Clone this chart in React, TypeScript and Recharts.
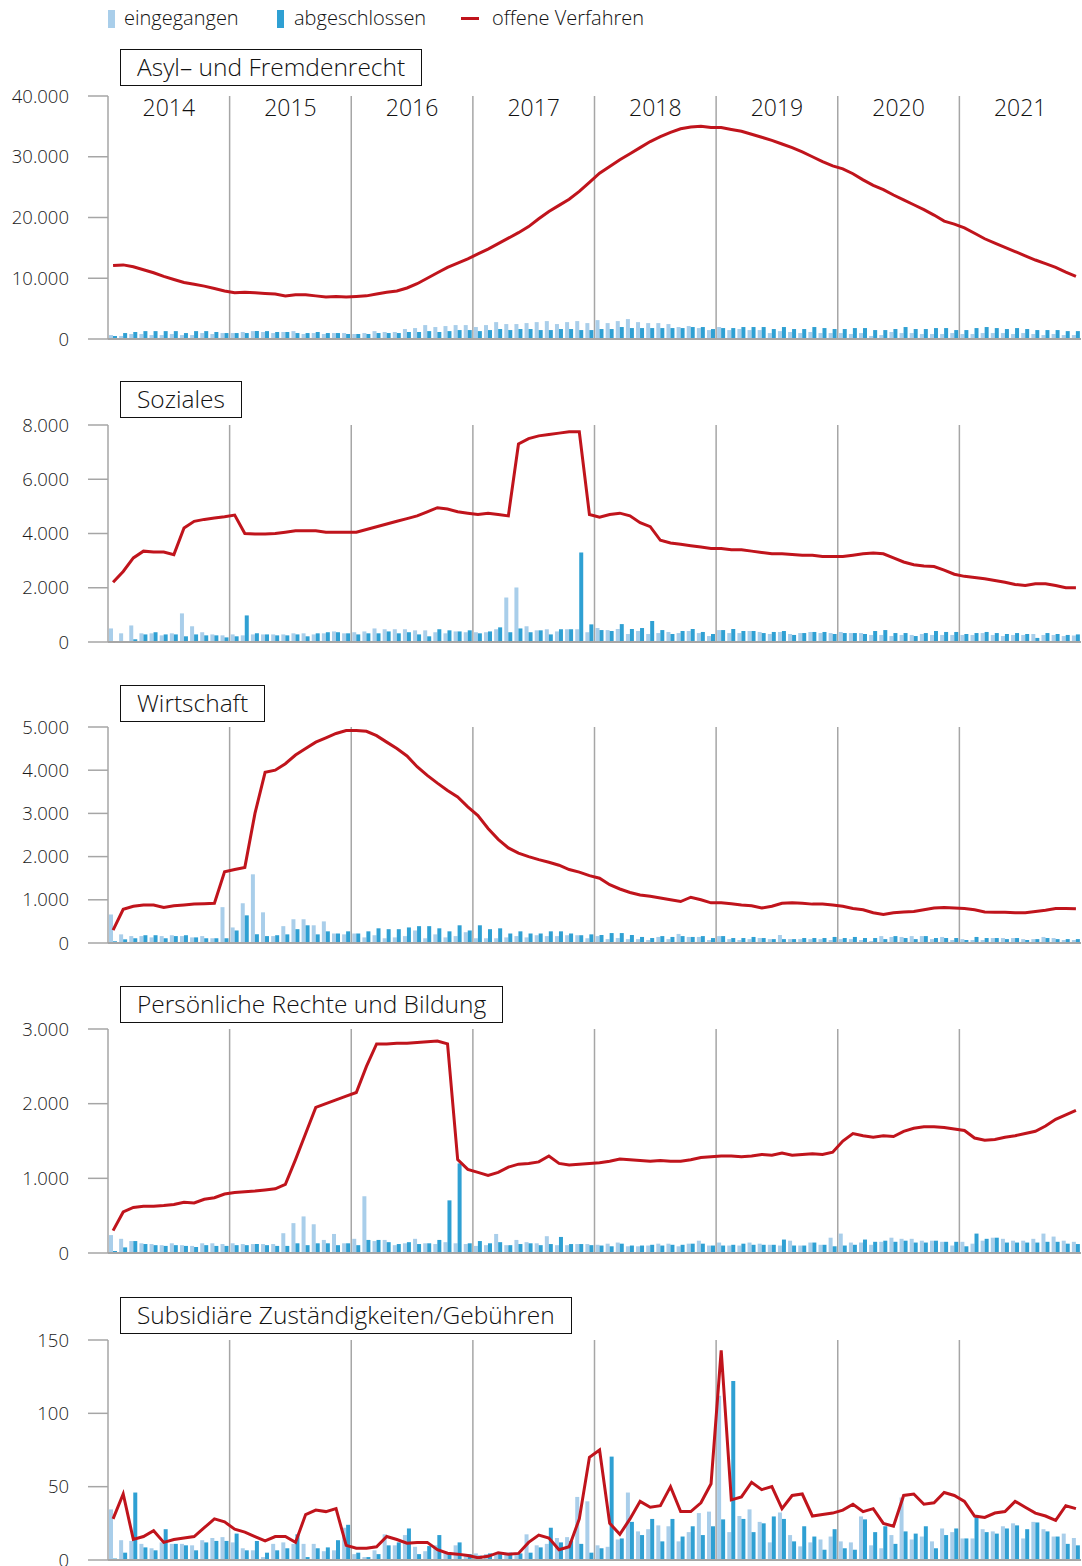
import React from "react";
import { ComposedChart, Bar, Line, XAxis, YAxis, CartesianGrid } from "recharts";

const YEARS = ["2014", "2015", "2016", "2017", "2018", "2019", "2020", "2021"];
const MONTH_NAMES = ["01", "02", "03", "04", "05", "06", "07", "08", "09", "10", "11", "12"];
const MONTHS = YEARS.flatMap((y) => MONTH_NAMES.map((m) => `${y}-${m}`));

// Asyl- und Fremdenrecht
const asylEingegangen = [
  650, 500, 820, 820, 650, 650, 820, 650, 650, 980, 820, 980,
  980, 1150, 1300, 1150, 980, 1150, 1300, 820, 980, 820, 980, 980,
  820, 980, 1300, 1150, 1150, 1640, 1800, 2290, 1970, 2130, 2290, 2290,
  1970, 2290, 2780, 2460, 2460, 2620, 2780, 2950, 2460, 2780, 2950, 2620,
  3110, 2620, 2950, 3280, 2780, 2620, 2620, 2460, 1970, 2130, 1800, 1470,
  1970, 1470, 1640, 1470, 1470, 980, 1300, 1150, 980, 1150, 980, 980,
  980, 820, 980, 500, 650, 1150, 980, 980, 820, 820, 820, 980,
  820, 820, 980, 980, 980, 820, 980, 820, 650, 820, 650, 650,
];
const asylAbgeschlossen = [
  490, 980, 1150, 1300, 1300, 1300, 1300, 980, 1300, 1300, 1150, 980,
  980, 980, 1300, 1300, 1150, 1150, 980, 980, 1150, 980, 980, 820,
  820, 820, 980, 980, 980, 1150, 1150, 1300, 1150, 1300, 1470, 1470,
  1300, 1470, 1640, 1470, 1640, 1640, 1470, 1470, 1640, 1640, 1470, 1470,
  1640, 1640, 1970, 1800, 1800, 1800, 1800, 1800, 1800, 1970, 1970, 1640,
  1800, 1800, 1970, 1970, 1970, 1640, 1970, 1640, 1640, 1970, 1800, 1640,
  1640, 1800, 1800, 1470, 1470, 1640, 1970, 1640, 1640, 1800, 1800, 1470,
  1470, 1800, 1970, 1800, 1640, 1800, 1640, 1470, 1470, 1470, 1300, 1300,
];
const asylOffen = [
  12100, 12200, 11900, 11400, 10900, 10300, 9800, 9300, 9000, 8700, 8300, 7900,
  7600, 7700, 7600, 7500, 7400, 7100, 7300, 7300, 7100, 6900, 7000, 6900,
  7000, 7100, 7400, 7700, 7900, 8400, 9100, 10000, 10900, 11800, 12500, 13200,
  14000, 14800, 15700, 16600, 17500, 18500, 19800, 21000, 22000, 23000, 24300, 25800,
  27300, 28400, 29500, 30500, 31500, 32500, 33300, 34000, 34600, 34900, 35000, 34800,
  34800, 34500, 34200, 33700, 33200, 32700, 32100, 31500, 30800, 30000, 29200, 28500,
  28000, 27200, 26200, 25300, 24600, 23700, 22900, 22100, 21300, 20400, 19400, 18900,
  18300, 17400, 16500, 15800, 15100, 14400, 13700, 13000, 12400, 11800, 11000, 10300,
];

// Soziales
const sozEingegangen = [
  500, 320, 610, 320, 320, 245, 320, 1055, 580, 360, 280, 245,
  280, 245, 280, 280, 280, 280, 320, 320, 280, 320, 390, 320,
  360, 390, 500, 470, 470, 470, 430, 430, 360, 320, 390, 360,
  360, 360, 470, 1640, 2010, 580, 430, 470, 390, 470, 470, 360,
  515, 440, 480, 295, 405, 295, 330, 370, 330, 405, 330, 220,
  440, 330, 330, 405, 370, 295, 370, 295, 330, 370, 330, 330,
  370, 330, 330, 260, 260, 220, 260, 260, 295, 260, 260, 260,
  260, 260, 330, 260, 220, 260, 260, 295, 260, 260, 220, 240,
];
const sozAbgeschlossen = [
  25, 25, 100, 280, 360, 280, 280, 210, 280, 245, 245, 170,
  210, 980, 320, 280, 245, 245, 280, 210, 320, 360, 360, 320,
  280, 320, 320, 390, 320, 360, 280, 210, 470, 430, 390, 430,
  320, 390, 540, 360, 500, 360, 430, 280, 470, 470, 3300, 650,
  440, 405, 660, 480, 515, 775, 440, 295, 405, 480, 370, 295,
  440, 480, 405, 405, 330, 370, 405, 260, 330, 370, 370, 295,
  330, 330, 295, 405, 440, 330, 330, 220, 330, 405, 370, 370,
  295, 330, 370, 330, 295, 330, 295, 150, 330, 295, 260, 280,
];
const sozOffen = [
  2200, 2600, 3100, 3350, 3320, 3320, 3220, 4200, 4450, 4520, 4570, 4620,
  4680, 4000, 3980, 3980, 4000, 4050, 4100, 4100, 4100, 4050, 4050, 4050,
  4050, 4150, 4250, 4350, 4450, 4550, 4650, 4800, 4950, 4900, 4800, 4750,
  4700, 4750, 4700, 4650, 7300, 7500, 7600, 7650, 7700, 7750, 7750, 4700,
  4600, 4700, 4750, 4650, 4400, 4250, 3750, 3650, 3600, 3550, 3500, 3450,
  3450, 3400, 3400, 3350, 3300, 3250, 3250, 3230, 3200, 3200, 3150, 3150,
  3150, 3200, 3250, 3280, 3250, 3100, 2950, 2850, 2800, 2780, 2650, 2500,
  2420, 2380, 2330, 2270, 2200, 2120, 2080, 2150, 2150, 2080, 2000, 2000,
];

// Wirtschaft
const wirtEingegangen = [
  660, 200, 160, 160, 130, 160, 180, 160, 130, 160, 110, 830,
  360, 920, 1590, 710, 160, 390, 550, 550, 410, 500, 220, 200,
  220, 130, 180, 110, 130, 160, 290, 110, 200, 130, 160, 250,
  110, 110, 110, 130, 160, 130, 180, 160, 160, 180, 180, 110,
  160, 90, 115, 90, 90, 70, 140, 90, 210, 140, 140, 70,
  160, 90, 70, 90, 115, 90, 185, 90, 90, 90, 90, 70,
  90, 90, 70, 45, 160, 140, 140, 160, 160, 90, 140, 70,
  90, 70, 70, 115, 115, 115, 90, 90, 140, 115, 70, 70,
];
const wirtAbgeschlossen = [
  40, 85, 110, 180, 180, 110, 160, 180, 130, 110, 110, 110,
  290, 640, 200, 160, 180, 200, 320, 410, 200, 270, 220, 270,
  220, 270, 340, 320, 320, 360, 390, 390, 340, 270, 410, 290,
  410, 320, 340, 220, 270, 220, 220, 270, 270, 220, 180, 200,
  185, 230, 230, 185, 140, 115, 160, 140, 160, 140, 160, 115,
  160, 115, 115, 140, 115, 90, 90, 90, 115, 115, 115, 140,
  115, 140, 115, 115, 90, 160, 115, 90, 160, 115, 115, 115,
  70, 140, 115, 115, 90, 115, 70, 90, 115, 90, 90, 90,
];
const wirtOffen = [
  300, 780, 850, 880, 880, 820, 860, 880, 900, 910, 920, 1650,
  1700, 1750, 3000, 3950, 4000, 4150, 4350, 4500, 4650, 4750, 4850, 4920,
  4920, 4900, 4800, 4650, 4500, 4330, 4080, 3880, 3700, 3530, 3380, 3150,
  2950, 2650, 2400, 2200, 2080, 2000, 1930, 1870, 1800, 1700, 1640, 1560,
  1500, 1350, 1250, 1170, 1110, 1080, 1040, 1000, 960, 1060, 1000, 930,
  930, 910, 880, 860, 810, 850, 920, 930, 920, 900, 900, 880,
  850, 800, 770, 700, 660, 700, 720, 730, 770, 810, 820, 810,
  800, 770, 720, 710, 710, 700, 700, 730, 760, 800, 800, 790,
];

// Persönliche Rechte und Bildung
const persEingegangen = [
  240, 190, 160, 130, 120, 105, 130, 105, 95, 130, 130, 120,
  130, 120, 120, 120, 120, 265, 400, 490, 385, 175, 255, 130,
  190, 760, 160, 175, 105, 130, 190, 130, 120, 145, 130, 120,
  95, 105, 255, 105, 175, 145, 130, 225, 105, 105, 120, 120,
  110, 125, 140, 90, 90, 100, 125, 125, 90, 125, 165, 100,
  140, 100, 100, 140, 125, 110, 100, 165, 100, 140, 110, 205,
  260, 140, 140, 110, 150, 205, 190, 190, 165, 165, 150, 100,
  150, 125, 165, 205, 190, 165, 165, 190, 260, 220, 165, 150,
];
const persAbgeschlossen = [
  27, 75, 160, 120, 105, 95, 105, 95, 80, 105, 95, 95,
  105, 105, 120, 105, 95, 95, 130, 105, 130, 130, 105, 130,
  105, 175, 175, 145, 120, 145, 120, 130, 175, 705, 1200, 130,
  160, 130, 145, 105, 120, 130, 105, 120, 215, 120, 120, 105,
  100, 90, 125, 100, 100, 110, 100, 110, 110, 125, 125, 100,
  100, 110, 125, 110, 110, 110, 180, 100, 100, 140, 110, 90,
  100, 110, 180, 150, 165, 150, 165, 140, 140, 165, 150, 150,
  90, 260, 190, 205, 140, 140, 140, 140, 150, 150, 125, 120,
];
const persOffen = [
  300, 550, 610, 625, 625, 635, 650, 680, 670, 720, 740, 790,
  810, 820, 830, 845, 860, 920, 1250, 1600, 1950, 2000, 2050, 2100,
  2150, 2500, 2800, 2800, 2810, 2810, 2820, 2830, 2840, 2800, 1250, 1120,
  1080, 1040, 1080, 1150, 1190, 1200, 1220, 1300, 1200, 1180, 1190, 1200,
  1210, 1230, 1260, 1250, 1240, 1230, 1240, 1230, 1230, 1250, 1280, 1290,
  1300, 1300, 1290, 1300, 1320, 1310, 1340, 1310, 1320, 1330, 1320, 1350,
  1500, 1600, 1570, 1550, 1570, 1560, 1630, 1670, 1690, 1690, 1680, 1660,
  1640, 1540, 1510, 1520, 1550, 1570, 1600, 1630, 1700, 1790, 1850, 1910,
];

// Subsidiäre Zuständigkeiten/Gebühren
const subsEingegangen = [
  34.5, 13.5, 13, 11, 8, 12, 11, 11, 10, 13.5, 15, 15.6,
  12, 8, 6.6, 2, 11, 12, 11, 11, 11, 6, 6.6, 22,
  4, 2, 6.6, 17.5, 10, 17, 9, 6, 10, 5, 10, 4,
  4.5, 4, 4, 5, 4.5, 17.5, 10, 11, 15, 15.6, 43, 40,
  10, 9, 14, 46, 19.5, 21, 23.6, 23, 12.7, 19, 32, 33,
  112, 19, 30, 34.5, 26, 12, 32.4, 17, 9.3, 12, 14, 16,
  12.7, 12, 29.7, 10, 8, 17, 42.6, 14, 16, 12.7, 21.5, 19,
  14.7, 14.7, 21, 19.5, 23, 25, 14.7, 26, 21, 16, 18, 15,
];
const subsAbgeschlossen = [
  1, 5, 46, 8.6, 6.6, 21, 11, 10, 6.6, 12, 13, 13,
  18, 6.6, 13, 5, 6.6, 8, 17.5, 2, 8, 8.6, 13.5, 24,
  5, 2, 4, 10, 12, 21.5, 4, 9.5, 17, 5, 12, 4,
  3, 4.5, 4, 5, 4.5, 5, 8.6, 22, 12, 13, 11, 5,
  8, 70.5, 14.7, 26, 17, 28, 12.7, 28, 16, 23, 17, 23,
  27.7, 122, 28, 19, 25, 29.7, 28, 12.7, 23, 16, 7, 21,
  8, 7, 27.7, 19, 23, 11, 19.5, 18, 23, 8, 17, 21.5,
  14.7, 30, 19, 18, 21.5, 23.6, 21, 25.6, 19.5, 16, 11, 10,
];
const subsOffen = [
  28, 45, 14, 16, 20, 12, 14, 15, 16, 22, 28, 26,
  21, 19, 16, 13, 16, 16, 12, 31, 34, 33, 35, 10,
  8, 8, 9, 16, 14, 11.5, 12, 12, 7, 4.6, 4, 3,
  1.5, 2.5, 5, 4, 4.5, 12, 17, 15, 7, 9, 28, 70,
  75, 25, 17.5, 28, 40, 36, 37, 50, 33, 33, 39, 52,
  143, 41, 43, 53, 48, 50, 35, 44, 45, 30, 31, 32,
  34, 38, 33, 35, 25, 23, 44, 45, 38, 39, 46, 44,
  40, 30, 29, 32, 33, 40, 36, 32, 30, 27, 37, 35,
];

const LIGHT = "#a9ceea";
const DARK = "#2fa0d3";
const RED = "#c0141c";
const GRID = "#a6a6a6";
const FONT = "'Open Sans', 'Noto Sans', sans-serif";

const MT = 14;
const XH = 1;
const MB = 14;
const CHART_W = 1082;
const Y_W = 108;
const M_RIGHT = 1;
const BAND = (CHART_W - Y_W - M_RIGHT) / MONTHS.length;

const fmt = (v: number) => String(v).replace(/\B(?=(\d{3})+(?!\d))/g, ".");

const PANELS = [
  { title: "Asyl– und Fremdenrecht", eing: asylEingegangen, abg: asylAbgeschlossen, offen: asylOffen, max: 40000, ticks: [0, 10000, 20000, 30000, 40000], plotTop: 95, plotHeight: 244, titleTop: 49, years: true },
  { title: "Soziales", eing: sozEingegangen, abg: sozAbgeschlossen, offen: sozOffen, max: 8000, ticks: [0, 2000, 4000, 6000, 8000], plotTop: 425, plotHeight: 217, titleTop: 381, years: false },
  { title: "Wirtschaft", eing: wirtEingegangen, abg: wirtAbgeschlossen, offen: wirtOffen, max: 5000, ticks: [0, 1000, 2000, 3000, 4000, 5000], plotTop: 727, plotHeight: 216, titleTop: 685, years: false },
  { title: "Persönliche Rechte und Bildung", eing: persEingegangen, abg: persAbgeschlossen, offen: persOffen, max: 3000, ticks: [0, 1000, 2000, 3000], plotTop: 1029, plotHeight: 224, titleTop: 986, years: false },
  { title: "Subsidiäre Zuständigkeiten/Gebühren", eing: subsEingegangen, abg: subsAbgeschlossen, offen: subsOffen, max: 150, ticks: [0, 50, 100, 150], plotTop: 1340, plotHeight: 220, titleTop: 1297, years: false },
];

const yearLines = (props: any) => {
  const o = props && props.offset;
  const left = o ? o.left : Y_W;
  const width = o ? o.width : CHART_W - Y_W - M_RIGHT;
  return [1, 2, 3, 4, 5, 6, 7].map((k) => left + (width * k) / 8);
};

// tick sits at the centre of January; the year label goes to the middle of the year
const YearTick = (props: any) => {
  const { x, payload } = props;
  return (
    <text x={x + 5.5 * BAND} y={MT + 21} textAnchor="middle" fontSize={23} fontFamily={FONT} fontWeight={300} fill="#111">
      {String(payload.value).slice(0, 4)}
    </text>
  );
};

function Panel({ p }: { p: (typeof PANELS)[number] }) {
  const rows = MONTHS.map((m, i) => ({ m, eing: p.eing[i], abg: p.abg[i], offen: p.offen[i] }));
  const h = MT + p.plotHeight + XH + MB;
  return (
    <div style={{ position: "absolute", left: 0, top: p.plotTop - MT }}>
      <ComposedChart width={CHART_W} height={h} data={rows} barGap={0} margin={{ top: MT, right: M_RIGHT, bottom: MB, left: 0 }}>
        <CartesianGrid horizontal={false} vertical stroke={GRID} strokeWidth={1.5} verticalCoordinatesGenerator={yearLines} />
        <XAxis dataKey="m" type="category" tick={false} tickLine={false} height={XH} axisLine={{ stroke: GRID, strokeWidth: 2 }} />
        {p.years && (
          <XAxis xAxisId="yrs" dataKey="m" type="category" orientation="top" height={1} interval={11} axisLine={false} tickLine={false} tick={<YearTick />} />
        )}
        <YAxis
          type="number"
          domain={[0, p.max]}
          ticks={p.ticks}
          interval={0}
          width={Y_W}
          tickSize={20}
          tickMargin={19}
          tickFormatter={fmt}
          axisLine={{ stroke: GRID, strokeWidth: 1.5 }}
          tickLine={{ stroke: GRID, strokeWidth: 1.5 }}
          tick={{ fontSize: 18.5, fill: "#1a1a1a", fontFamily: FONT, fontWeight: 300 }}
        />
        <Line dataKey="offen" type="linear" stroke={RED} strokeWidth={3} dot={false} activeDot={false} isAnimationActive={false} />
        <Bar dataKey="eing" fill={LIGHT} barSize={4} isAnimationActive={false} />
        <Bar dataKey="abg" fill={DARK} barSize={4} isAnimationActive={false} />
      </ComposedChart>
      <div
        style={{
          position: "absolute",
          left: 120,
          top: p.titleTop - (p.plotTop - MT),
          height: 37,
          boxSizing: "border-box",
          border: "1.5px solid #111",
          background: "#fff",
          padding: "0 16px",
          fontSize: 24.5,
          lineHeight: "34px",
          whiteSpace: "nowrap",
        }}
      >
        {p.title}
      </div>
    </div>
  );
}

export default function App() {
  return (
    <div
      style={{
        position: "absolute",
        left: 0,
        top: 0,
        width: 1082,
        height: 1566,
        background: "#fff",
        fontFamily: FONT,
        fontWeight: 300,
        color: "#111",
        overflow: "hidden",
      }}
    >
      <div style={{ position: "absolute", left: 108, top: 10, width: 7, height: 18, background: LIGHT }} />
      <div style={{ position: "absolute", left: 124, top: 4, fontSize: 20, lineHeight: "28px" }}>eingegangen</div>
      <div style={{ position: "absolute", left: 277, top: 10, width: 7, height: 18, background: DARK }} />
      <div style={{ position: "absolute", left: 294, top: 4, fontSize: 20, lineHeight: "28px" }}>abgeschlossen</div>
      <div style={{ position: "absolute", left: 461, top: 17, width: 18, height: 3, background: RED }} />
      <div style={{ position: "absolute", left: 492, top: 4, fontSize: 20, lineHeight: "28px" }}>offene Verfahren</div>
      {PANELS.map((p) => (
        <Panel key={p.title} p={p} />
      ))}
    </div>
  );
}
